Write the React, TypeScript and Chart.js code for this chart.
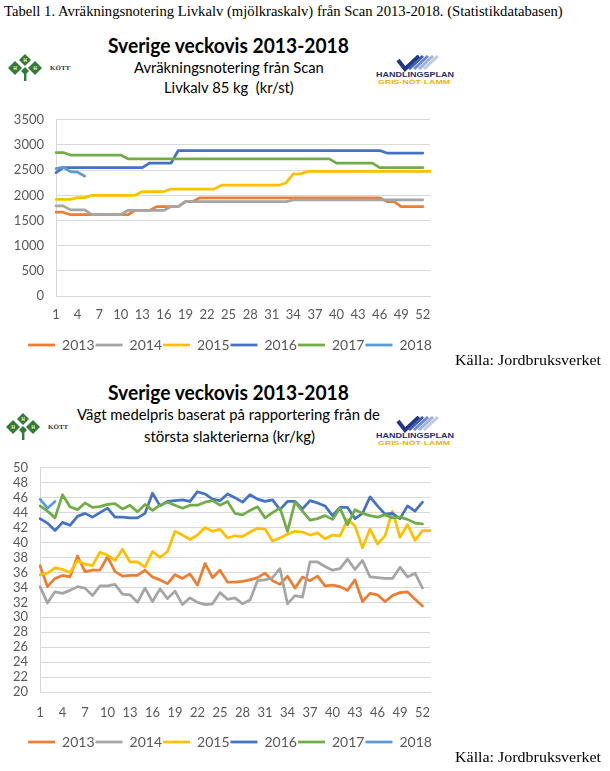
import React, { useEffect, useLayoutEffect, useRef } from "react";
import { Chart, registerables } from "chart.js";

Chart.register(...registerables);

// ---------- categories / labels ----------
const WEEKS = [
  "1", "2", "3", "4", "5", "6", "7", "8", "9", "10",
  "11", "12", "13", "14", "15", "16", "17", "18", "19", "20",
  "21", "22", "23", "24", "25", "26", "27", "28", "29", "30",
  "31", "32", "33", "34", "35", "36", "37", "38", "39", "40",
  "41", "42", "43", "44", "45", "46", "47", "48", "49", "50",
  "51", "52", "53",
];
const YEARS = ["2013", "2014", "2015", "2016", "2017", "2018"];

// ---------- chart 1: Livkalv 85 kg (kr/st) ----------
const LIVKALV_2013 = [
  1665, 1665, 1615, 1615, 1615, 1615, 1615, 1615, 1615, 1615,
  1615, 1700, 1700, 1700, 1775, 1775, 1775, 1775, 1875, 1875,
  1950, 1950, 1950, 1950, 1950, 1950, 1950, 1950, 1950, 1950,
  1950, 1950, 1950, 1950, 1950, 1950, 1950, 1950, 1950, 1950,
  1950, 1950, 1950, 1950, 1950, 1950, 1875, 1875, 1775, 1775,
  1775, 1775,
];
const LIVKALV_2014 = [
  1790, 1790, 1710, 1710, 1710, 1615, 1615, 1615, 1615, 1615,
  1700, 1700, 1700, 1700, 1700, 1700, 1775, 1775, 1875, 1875,
  1875, 1875, 1875, 1875, 1875, 1875, 1875, 1875, 1875, 1875,
  1875, 1875, 1875, 1910, 1910, 1910, 1910, 1910, 1910, 1910,
  1910, 1910, 1910, 1910, 1910, 1910, 1910, 1910, 1910, 1910,
  1910, 1910,
];
const LIVKALV_2015 = [
  1920, 1920, 1920, 1955, 1955, 2000, 2000, 2000, 2000, 2000,
  2000, 2000, 2075, 2075, 2075, 2075, 2125, 2125, 2125, 2125,
  2125, 2125, 2125, 2200, 2200, 2200, 2200, 2200, 2200, 2200,
  2200, 2200, 2250, 2425, 2425, 2475, 2475, 2475, 2475, 2475,
  2475, 2475, 2475, 2475, 2475, 2475, 2475, 2475, 2475, 2475,
  2475, 2475, 2475,
];
const LIVKALV_2016 = [
  2450, 2550, 2550, 2550, 2550, 2550, 2550, 2550, 2550, 2550,
  2550, 2550, 2550, 2640, 2640, 2640, 2640, 2890, 2890, 2890,
  2890, 2890, 2890, 2890, 2890, 2890, 2890, 2890, 2890, 2890,
  2890, 2890, 2890, 2890, 2890, 2890, 2890, 2890, 2890, 2890,
  2890, 2890, 2890, 2890, 2890, 2890, 2840, 2840, 2840, 2840,
  2840, 2840,
];
const LIVKALV_2017 = [
  2850, 2850, 2800, 2800, 2800, 2800, 2800, 2800, 2800, 2800,
  2725, 2725, 2725, 2725, 2725, 2725, 2725, 2725, 2725, 2725,
  2725, 2725, 2725, 2725, 2725, 2725, 2725, 2725, 2725, 2725,
  2725, 2725, 2725, 2725, 2725, 2725, 2725, 2725, 2725, 2640,
  2640, 2640, 2640, 2640, 2640, 2550, 2550, 2550, 2550, 2550,
  2550, 2550,
];
const LIVKALV_2018 = [2530, 2560, 2470, 2460, 2380];

// ---------- chart 2: Vägt medelpris (kr/kg) ----------
const MEDEL_2013 = [
  36.9, 34.1, 35.2, 35.6, 35.4, 38.2, 36.1, 36.3, 36.3, 38.1,
  36.1, 35.5, 35.6, 35.6, 36.3, 35.4, 35.0, 34.5, 35.7, 35.2,
  35.8, 34.3, 37.2, 35.3, 36.3, 34.7, 34.7, 34.8, 35.0, 35.3,
  35.9, 34.9, 34.4, 35.5, 33.9, 35.4, 34.9, 35.5, 34.2, 34.3,
  34.1, 33.6, 35.0, 32.1, 33.2, 33.0, 32.1, 32.9, 33.3, 33.4,
  32.4, 31.5,
];
const MEDEL_2014 = [
  34.1, 31.9, 33.4, 33.2, 33.6, 34.1, 33.9, 32.9, 34.2, 34.2,
  34.4, 33.1, 33.0, 32.0, 33.9, 32.1, 33.8, 32.5, 33.5, 31.7,
  32.6, 32.0, 31.7, 31.8, 33.3, 32.4, 32.6, 31.8, 32.3, 34.9,
  35.0, 35.3, 36.5, 31.8, 32.9, 32.7, 37.4, 37.4, 36.8, 36.3,
  36.5, 37.8, 36.4, 37.6, 35.4, 35.3, 35.2, 35.2, 36.7, 35.4,
  35.9, 33.9,
];
const MEDEL_2015 = [
  35.7, 35.9, 36.6, 36.4, 36.0, 37.6, 37.1, 36.9, 38.7, 38.3,
  37.6, 39.1, 37.4, 37.4, 36.7, 38.8, 38.0, 38.8, 41.5, 41.0,
  40.4, 41.0, 42.0, 41.5, 41.8, 40.6, 40.9, 40.8, 41.4, 41.9,
  41.8, 40.2, 40.6, 41.1, 41.5, 41.4, 41.0, 41.3, 40.5, 41.0,
  40.9, 43.1, 42.2, 39.3, 41.8, 39.8, 40.9, 44.2, 40.7, 42.4,
  40.3, 41.6, 41.6,
];
const MEDEL_2016 = [
  43.2, 42.6, 41.6, 42.7, 42.3, 43.5, 43.9, 43.4, 44.0, 44.6,
  43.4, 43.4, 43.3, 43.3, 43.9, 46.6, 44.9, 45.5, 45.6, 45.7,
  45.5, 46.8, 46.5, 45.8, 45.6, 46.5, 46.0, 45.4, 46.4, 45.8,
  45.5, 45.7, 44.4, 45.5, 45.5, 44.5, 45.6, 45.3, 44.9, 43.6,
  44.7, 44.7, 43.2, 43.9, 46.1, 44.9, 43.8, 43.9, 43.2, 44.9,
  44.2, 45.4,
];
const MEDEL_2017 = [
  44.9, 44.2, 43.3, 46.4, 44.8, 44.4, 45.3, 44.7, 44.8, 45.1,
  45.2, 44.5, 45.0, 44.1, 45.1, 44.3, 45.0, 45.4, 45.0, 44.6,
  45.0, 45.0, 45.4, 45.6, 45.0, 45.5, 43.9, 43.7, 44.3, 44.8,
  43.3, 44.0, 44.6, 41.5, 45.4, 44.2, 43.0, 43.2, 43.6, 43.1,
  44.6, 42.4, 44.4, 43.9, 43.6, 43.4, 43.7, 43.3, 43.4, 43.1,
  42.6, 42.5,
];
const MEDEL_2018 = [45.8, 44.6, 45.5];

// ---------- styles ----------
const COLORS = ["#ED7D31", "#A5A5A5", "#FFC000", "#4472C4", "#70AD47", "#5B9BD5"];
const GRID = "#d9d9d9";
const TICK = "#595959";

type ChartProps = {
  top: number;
  height: number;
  padTop: number;
  yWidth: number;
  xHeight: number;
  xPad: number;
  yMin: number;
  yMax: number;
  yStep: number;
  series: number[][];
};

function LineChart(p: ChartProps) {
  const ref = useRef<HTMLCanvasElement>(null);
  useEffect(() => {
    const chart = new Chart(ref.current as HTMLCanvasElement, {
      type: "line",
      data: {
        labels: WEEKS,
        datasets: p.series.map((data, i) => ({
          label: YEARS[i],
          data,
          borderColor: COLORS[i],
          backgroundColor: COLORS[i],
          borderWidth: 2.75,
          pointRadius: 0,
          pointHoverRadius: 0,
          tension: 0,
          fill: false,
          borderCapStyle: "round",
          borderJoinStyle: "round",
          order: 6 - i,
        })),
      } as any,
      options: {
        responsive: false,
        animation: false,
        events: [],
        layout: { padding: { top: p.padTop, left: 0, right: 0, bottom: 0 } },
        scales: {
          x: {
            grid: { display: false, drawTicks: false },
            border: { display: true, color: GRID, width: 1 },
            ticks: {
              autoSkip: false,
              maxRotation: 0,
              minRotation: 0,
              padding: p.xPad,
              color: TICK,
              font: { family: "Lato", size: 13 },
              callback: (_v: any, i: number) => (i % 3 === 0 ? WEEKS[i] : ""),
            },
            afterFit: (s: any) => {
              s.height = p.xHeight;
            },
          },
          y: {
            min: p.yMin,
            max: p.yMax,
            grid: { color: GRID, lineWidth: 1, drawTicks: false },
            border: { display: true, color: GRID, width: 1 },
            ticks: {
              stepSize: p.yStep,
              autoSkip: false,
              padding: 12,
              color: TICK,
              font: { family: "Lato", size: 13 },
              callback: (v: any) => String(v),
            },
            afterFit: (s: any) => {
              s.width = p.yWidth;
            },
          },
          y2: {
            position: "right",
            display: true,
            grid: { display: false, drawTicks: false },
            border: { display: false },
            ticks: { display: false },
            afterFit: (s: any) => {
              s.width = 30;
            },
          },
        },
        plugins: {
          legend: {
            position: "bottom",
            labels: {
              usePointStyle: true,
              pointStyle: "line",
              pointStyleWidth: 27,
              padding: 1,
              color: TICK,
              font: { family: "Lato", size: 14 },
              sort: (a: any, b: any) => a.datasetIndex - b.datasetIndex,
            },
          },
          tooltip: { enabled: false },
          title: { display: false },
        },
      } as any,
    });
    return () => chart.destroy();
  }, []);
  return (
    <canvas
      ref={ref}
      width={460}
      height={p.height}
      style={{ position: "absolute", left: 0, top: p.top, width: 460, height: p.height }}
    />
  );
}

type FitProps = {
  text: string;
  left: number;
  width: number;
  cy: number;
  family: string;
  size: number;
  weight?: number;
  color?: string;
};

function FitText({ text, left, width, cy, family, size, weight = 400, color = "#000" }: FitProps) {
  const ref = useRef<HTMLSpanElement>(null);
  useLayoutEffect(() => {
    const el = ref.current;
    if (!el) return;
    const fit = () => {
      const natural = el.offsetWidth;
      if (natural > 0) el.style.transform = `translateY(-50%) scaleX(${width / natural})`;
    };
    fit();
    const fonts = (document as any).fonts;
    if (fonts && fonts.ready) fonts.ready.then(fit);
  }, [text, width]);
  return (
    <span
      ref={ref}
      style={{
        position: "absolute",
        left,
        top: cy,
        display: "inline-block",
        whiteSpace: "pre",
        fontFamily: family,
        fontSize: size,
        fontWeight: weight,
        color,
        lineHeight: 1,
        transformOrigin: "0 50%",
        transform: "translateY(-50%)",
      }}
    >
      {text}
    </span>
  );
}

function KottLogo({ left, top }: { left: number; top: number }) {
  return (
    <svg width={72} height={28} style={{ position: "absolute", left, top }}>
      <g fill="#2f7d3a">
        <polygon points="19,0 25,6 19,12 13,6" />
        <polygon points="9,7 16,14 9,21 2,14" />
        <polygon points="29,7 36,14 29,21 22,14" />
        <polygon points="19,13 23,17 19,21 15,17" />
        <rect x={18} y={18} width={2.4} height={9} />
      </g>
      <g fill="#fff" fontSize={4.5} fontFamily="Liberation Sans" fontWeight={700} textAnchor="middle">
        <text x={19} y={7.8}>H</text>
        <text x={9} y={15.8}>H</text>
        <text x={29} y={15.8}>H</text>
      </g>
      <text x={44} y={16} fontSize={7} fontFamily="Liberation Serif" fontWeight={700} fill="#333">
        KÖTT
      </text>
    </svg>
  );
}

function PlanLogo({ left, top }: { left: number; top: number }) {
  return (
    <svg width={84} height={30} style={{ position: "absolute", left, top }}>
      <g strokeWidth={3} strokeLinecap="butt" fill="none">
        <polyline points="24,5 31,14 45,1" stroke="#22378a" strokeWidth={4} />
        <line x1={35} y1={14} x2={49} y2={1} stroke="#3f5fb5" />
        <line x1={40} y1={14} x2={54} y2={1} stroke="#6f8bd0" />
        <line x1={45} y1={14} x2={59} y2={1} stroke="#9fb1dc" />
        <line x1={50} y1={14} x2={64} y2={1} stroke="#c3cbe0" />
      </g>
      <text x={2} y={22} fontSize={7} fontFamily="Liberation Sans" fontWeight={700} fill="#1f2f6e" textLength={78} lengthAdjust="spacingAndGlyphs">
        HANDLINGSPLAN
      </text>
      <text x={4} y={28.5} fontSize={6} fontFamily="Liberation Sans" fontWeight={700} fill="#e9b200" textLength={72} lengthAdjust="spacingAndGlyphs">
        GRIS·NÖT·LAMM
      </text>
    </svg>
  );
}

export default function App() {
  return (
    <div
      style={{
        position: "absolute",
        left: 0,
        top: 0,
        width: 610,
        height: 771,
        background: "#fff",
        overflow: "hidden",
      }}
    >
      <FitText
        text="Tabell 1. Avräkningsnotering Livkalv (mjölkraskalv) från Scan 2013-2018. (Statistikdatabasen)"
        left={4}
        width={559}
        cy={12}
        family="Liberation Serif"
        size={14}
      />

      {/* Chart 1 */}
      <FitText text="Sverige veckovis 2013-2018" left={108} width={241} cy={45} family="Lato" size={20} weight={700} />
      <FitText text="Avräkningsnotering från Scan" left={134} width={190} cy={67} family="Lato" size={15} />
      <FitText text="Livkalv 85 kg  (kr/st)" left={164} width={130} cy={87} family="Lato" size={15} />
      <KottLogo left={6} top={54} />
      <PlanLogo left={374} top={55} />
      <LineChart
        top={100}
        height={262}
        padTop={13}
        yWidth={56}
        xHeight={41}
        xPad={11}
        yMin={0}
        yMax={3500}
        yStep={500}
        series={[LIVKALV_2013, LIVKALV_2014, LIVKALV_2015, LIVKALV_2016, LIVKALV_2017, LIVKALV_2018]}
      />
      <FitText text="Källa: Jordbruksverket" left={455} width={146} cy={360} family="Liberation Serif" size={15} />

      {/* Chart 2 */}
      <FitText text="Sverige veckovis 2013-2018" left={108} width={241} cy={392} family="Lato" size={20} weight={700} />
      <FitText text="Vägt medelpris baserat på rapportering från de" left={77} width={303} cy={414} family="Lato" size={15} />
      <FitText text="största slakterierna (kr/kg)" left={144} width={171} cy={436} family="Lato" size={15} />
      <KottLogo left={4} top={413} />
      <PlanLogo left={374} top={416} />
      <LineChart
        top={448}
        height={311}
        padTop={13}
        yWidth={40}
        xHeight={42}
        xPad={13}
        yMin={20}
        yMax={50}
        yStep={2}
        series={[MEDEL_2013, MEDEL_2014, MEDEL_2015, MEDEL_2016, MEDEL_2017, MEDEL_2018]}
      />
      <FitText text="Källa: Jordbruksverket" left={455} width={146} cy={757} family="Liberation Serif" size={15} />
    </div>
  );
}
